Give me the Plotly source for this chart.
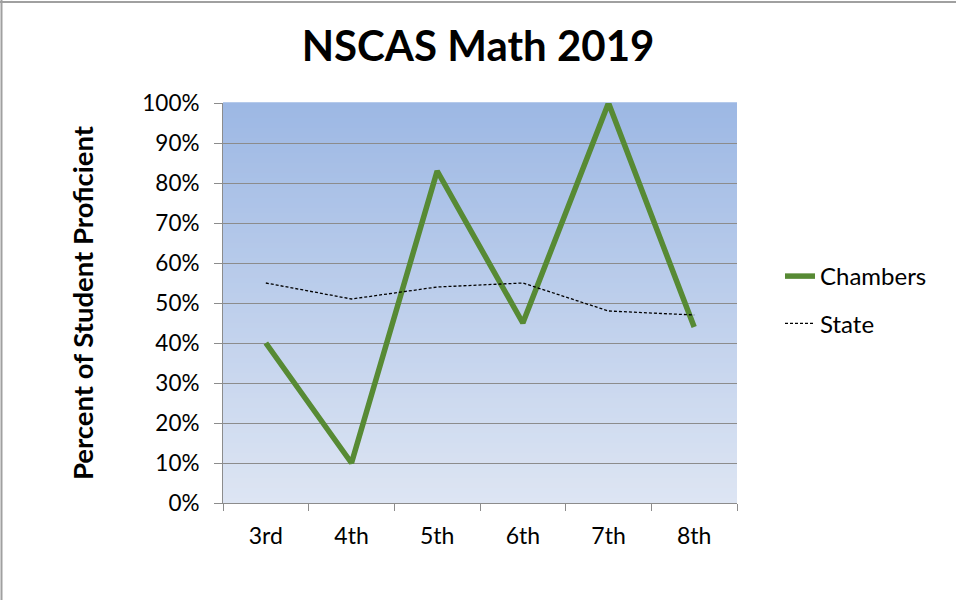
import plotly.graph_objects as go

grades = ["3rd", "4th", "5th", "6th", "7th", "8th"]
chambers = [0.40, 0.10, 0.83, 0.45, 1.00, 0.44]
state = [0.55, 0.51, 0.54, 0.55, 0.48, 0.47]
y_ticks = [i / 10 for i in range(11)]

W, H = 956, 600
L, R, T, B = 223, 219, 103, 97
pw = W - L - R
ph = H - T - B

fig = go.Figure()
fig.add_trace(go.Scatter(x=grades, y=chambers, mode="lines", name="Chambers",
                         legendgroup="a",
                         line=dict(color="#578a34", width=5.5)))
fig.add_trace(go.Scatter(x=grades, y=state, mode="lines", name="State",
                         legendgroup="b",
                         line=dict(color="black", width=1.3, dash="3px,2px")))

# vertical gradient background for the plot area
top = (157, 184, 228)
bot = (221, 229, 243)
n = 80
shapes = []
for i in range(n):
    f = i / (n - 1)
    c = tuple(round(bot[k] + (top[k] - bot[k]) * f) for k in range(3))
    shapes.append(dict(type="rect", xref="paper", yref="paper",
                       x0=0, x1=1, y0=i / n, y1=(i + 1) / n + 0.002,
                       fillcolor="rgb(%d,%d,%d)" % c, line=dict(width=0),
                       layer="below"))
# outer chart border (top and left visible)
border = dict(color="#a0a0a0", width=2)
shapes.append(dict(type="line", xref="paper", yref="paper",
                   x0=(1.5 - L) / pw, x1=(1.5 - L) / pw,
                   y0=(B - H) / ph, y1=(H - B) / ph, line=border))
shapes.append(dict(type="line", xref="paper", yref="paper",
                   x0=(0 - L) / pw, x1=(W - L) / pw,
                   y0=(H - 2 - B) / ph, y1=(H - 2 - B) / ph, line=border))

fig.update_layout(
    width=W, height=H,
    margin=dict(l=L, r=R, t=T, b=B),
    paper_bgcolor="white",
    plot_bgcolor="rgba(0,0,0,0)",
    shapes=shapes,
    font=dict(family="Lato, Open Sans, sans-serif", color="black", size=22),
    title=dict(text="<b>NSCAS Math 2019</b>", x=0.5, xanchor="center",
               y=1 - 46 / H, yanchor="middle", font=dict(size=42)),
    legend=dict(x=(780 - L) / pw, xanchor="left",
                y=(H - B - 300) / ph, yanchor="middle",
                font=dict(size=24), bgcolor="rgba(0,0,0,0)",
                tracegroupgap=13),
    showlegend=True,
)
fig.update_xaxes(type="category", tickson="boundaries", ticks="outside",
                 ticklen=7, tickcolor="#8c8c8c", showline=True,
                 linecolor="#8c8c8c", linewidth=1, showgrid=False,
                 tickfont=dict(size=23), ticklabelstandoff=12,
                 range=[-0.5, 5.5])
fig.update_yaxes(range=[0, 1], tickvals=y_ticks, tickformat=".0%",
                 ticks="outside", ticklen=8, tickcolor="#8c8c8c",
                 showline=True, linecolor="#8c8c8c", linewidth=1,
                 showgrid=True, gridcolor="#8c8c8c", gridwidth=1,
                 zeroline=False, tickfont=dict(size=22.5),
                 ticklabelstandoff=10,
                 title=dict(text="<b>Percent of Student Proficient</b>",
                            font=dict(size=27.5), standoff=40))

fig.write_html("out.html", config={"displayModeBar": False},
               post_script="document.body.style.margin='0';document.body.style.overflow='hidden';")
